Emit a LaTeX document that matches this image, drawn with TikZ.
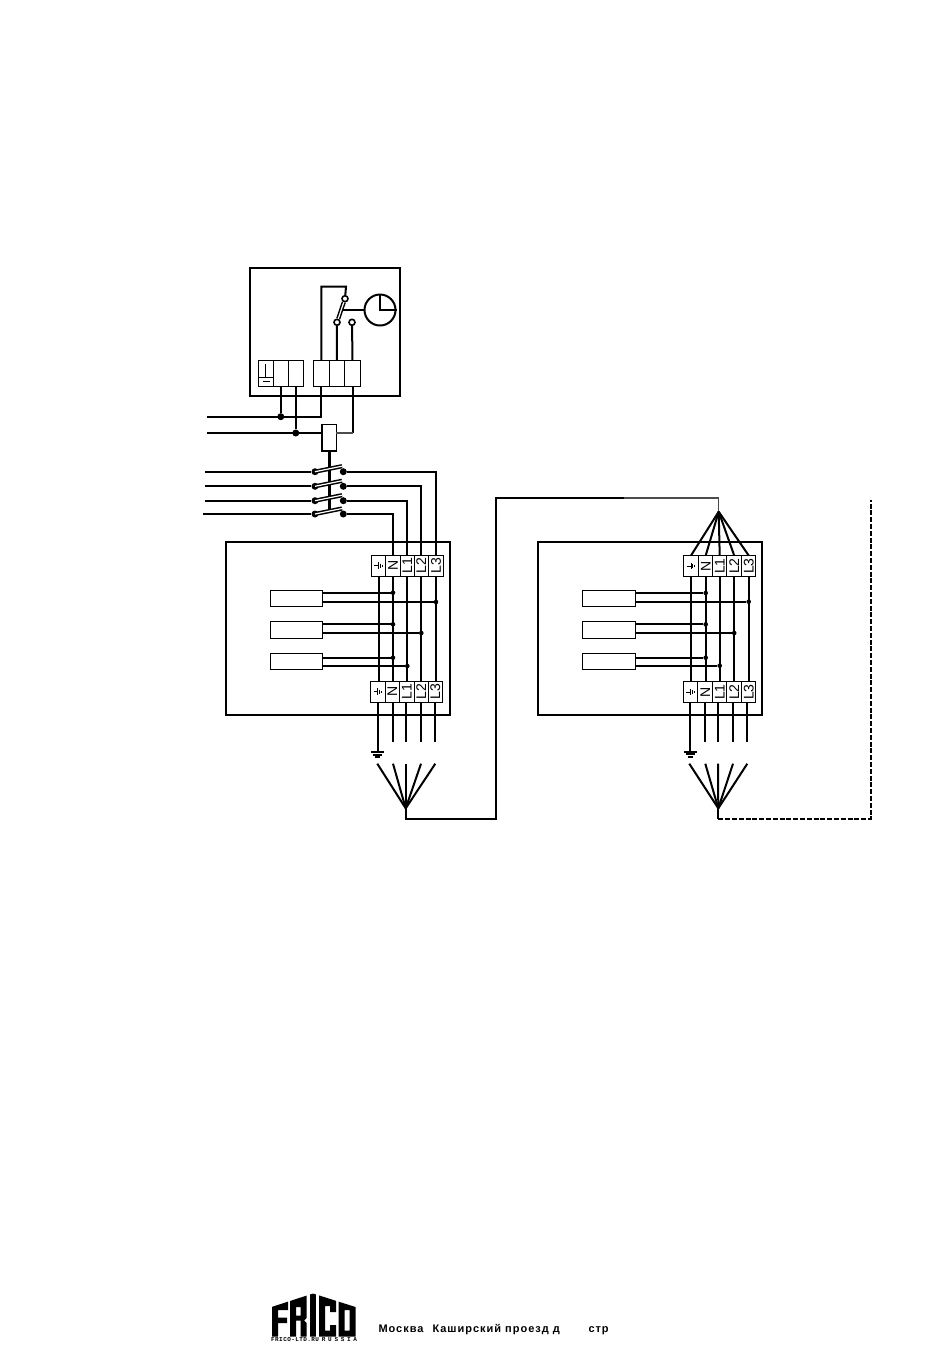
\documentclass[tikz,border=0pt]{standalone}
\usepackage{fontspec}
\setmainfont{Liberation Sans}
\newfontfamily\addrfont[LetterSpace=9]{Liberation Sans}
\newfontfamily\tagfont[LetterSpace=7]{Liberation Mono}
\newfontfamily\tagwide[LetterSpace=45]{Liberation Mono}
\tikzset{
	wire/.style={line width=2pt},
	thinwire/.style={line width=1.2pt,color=black!70},
	frame/.style={draw,line width=2pt,inner sep=0,outer sep=0},
	term/.style={draw,line width=1pt,inner sep=0,outer sep=0,minimum height=21pt,font=\fontsize{14}{15}\selectfont},
	heater/.style={draw,line width=1.1pt,inner sep=0,outer sep=0,minimum height=16pt},
	dot/.style={circle,fill,inner sep=0,minimum size=4.6pt},
	bigdot/.style={circle,fill,inner sep=0,minimum size=7pt},
	contact/.style={circle,draw,fill=white,line width=1.6pt,inner sep=0,minimum size=6pt},
	blade/.style={draw=black,double=white,double distance=1.2pt,line width=1.5pt},
	earthmark/.pic={\draw[line width=1pt](-4.2,0)--(0,0) (0,-3.4)--(0,3.4) (1.9,-2.2)--(1.9,2.2) (3.6,-.9)--(3.6,.9);},
	groundmark/.pic={\draw[line width=2pt](0,0)--(0,10) (-6.5,10)--(6.5,10) (-4.5,12.7)--(4.5,12.7) (-2.5,14.8)--(2.5,14.8);}
}
\begin{document}
\begin{tikzpicture}[x=1pt,y=-1pt]
\useasboundingbox (0,0) rectangle (950,1353);

	\node[frame,minimum width=150pt,minimum height=128pt](panel) at (325,332){};
	\node[term,minimum width=15pt,minimum height=26.4pt](p1) at (265.8,373.5){};
	\node[term,minimum width=15pt,minimum height=26.4pt](p2) at (280.8,373.5){};
	\node[term,minimum width=15pt,minimum height=26.4pt](p3) at (295.8,373.5){};
	\node[term,minimum width=16pt,minimum height=26.4pt](q1) at (321.3,373.5){};
	\node[term,minimum width=15pt,minimum height=26.4pt](q2) at (336.8,373.5){};
	\node[term,minimum width=16.4pt,minimum height=26.4pt](q3) at (352.5,373.5){};
	\draw[line width=1pt](265.5,364)--(265.5,377) (p1.west |- 0,377)--(p1.east |- 0,377) (262.7,381)--(270,381);

	\node[contact](st) at (345,298.7){};
	\node[contact](sa) at (337,322.3){};
	\node[contact](sb) at (352,322.3){};
	\node[circle,draw,line width=2pt,inner sep=0,minimum size=31pt](clock) at (380,310){};
	\coordinate (turn) at (346,286.7);
	\coordinate (arm) at (341.5,310);
	\draw[wire](q1.north)|-(turn)--(st);
	\draw[wire](q2.north)--(sa);
	\draw[wire](q3.north)--(sb);
	\draw[blade](sa)--(st);
	\draw[wire](arm)--(clock.west);
	\draw[wire](clock.north)--(clock.center)--(clock.east);

	\coordinate (w1) at (207,416.7);
	\coordinate (w2) at (207,433);
	\node[bigdot](j1) at (p2.south |- w1){};
	\node[bigdot](j2) at (p3.south |- w2){};
	\node[draw,line width=1.6pt,inner sep=0,outer sep=0,minimum width=14.3pt,minimum height=26.4pt](fuse) at (329.2,437.5){};
	\coordinate (fl) at (fuse.west |- w2);
	\coordinate (fr) at (fuse.east |- w2);
	\coordinate (rod) at (329.2,509);
	\draw[wire](w1)-|(q1.south);
	\draw[wire](p2.south)--(j1);
	\draw[wire](p3.south)--(j2);
	\draw[wire](w2)--(fl);
	\draw[wire](q3.south)--(q3.south |- fr);
	\draw[thinwire](fr)--(q3.south |- fr);
	\draw[line width=2.6pt](fuse.south)--(rod);

	\coordinate (i1) at (205,471.7);
	\coordinate (i2) at (205,486.3);
	\coordinate (i3) at (205,500.7);
	\coordinate (i4) at (203,514);
	\node[bigdot](s1) at (315,471.7){};
	\node[bigdot](s2) at (315,486.3){};
	\node[bigdot](s3) at (315,500.7){};
	\node[bigdot](s4) at (315,514){};
	\node[bigdot](r1) at (343.3,471.7){};
	\node[bigdot](r2) at (343.3,486.3){};
	\node[bigdot](r3) at (343.3,500.7){};
	\node[bigdot](r4) at (343.3,514){};
	\draw[blade](s1.center)--++(27,-5.5);
	\draw[blade](s2.center)--++(27,-5.5);
	\draw[blade](s3.center)--++(27,-5.5);
	\draw[blade](s4.center)--++(27,-5.5);
	\draw[wire](i1)--(s1);
	\draw[wire](i2)--(s2);
	\draw[wire](i3)--(s3);
	\draw[wire](i4)--(s4);

	\node[frame,minimum width=224.3pt,minimum height=173.3pt](unit1) at (337.9,628.3){};
	\node[term,minimum width=14.4pt](a1) at (378.5,565.8){};
	\node[term,minimum width=14.6pt](a2) at (393,565.8){\rotatebox{90}{N}};
	\node[term,minimum width=14pt](a3) at (407.3,565.8){\rotatebox{90}{L1}};
	\node[term,minimum width=14pt](a4) at (421.3,565.8){\rotatebox{90}{L2}};
	\node[term,minimum width=15.4pt](a5) at (436,565.8){\rotatebox{90}{L3}};
	\node[term,minimum width=15pt](b1) at (377.8,691.8){};
	\node[term,minimum width=14pt](b2) at (392.3,691.8){\rotatebox{90}{N}};
	\node[term,minimum width=15pt](b3) at (406.8,691.8){\rotatebox{90}{L1}};
	\node[term,minimum width=14pt](b4) at (421.3,691.8){\rotatebox{90}{L2}};
	\node[term,minimum width=14pt](b5) at (435.3,691.8){\rotatebox{90}{L3}};
	\pic at (a1.center) {earthmark};
	\pic at (b1.center) {earthmark};

	\draw[wire](r1)-|(a5.north);
	\draw[wire](r2)-|(a4.north);
	\draw[wire](r3)-|(a3.north);
	\draw[wire](r4)-|(a2.north);
	\draw[wire](a1.south)--(a1.south |- b1.north);
	\draw[wire](a2.south)--(a2.south |- b2.north);
	\draw[wire](a3.south)--(a3.south |- b3.north);
	\draw[wire](a4.south)--(a4.south |- b4.north);
	\draw[wire](a5.south)--(a5.south |- b5.north);

	\node[heater,minimum width=52.4pt](h1) at (296.5,598.3){};
	\node[heater,minimum width=52.4pt,minimum height=17pt](h2) at (296.5,629.8){};
	\node[heater,minimum width=52.4pt](h3) at (296.5,661.3){};
	\coordinate (h1a) at (h1.east |- 0,592.7);
	\coordinate (h1b) at (h1.east |- 0,602);
	\coordinate (h2a) at (h2.east |- 0,624.3);
	\coordinate (h2b) at (h2.east |- 0,633);
	\coordinate (h3a) at (h3.east |- 0,657.7);
	\coordinate (h3b) at (h3.east |- 0,666);
	\node[dot](j3) at (h1a -| a2.south){};
	\node[dot](j4) at (h1b -| a5.south){};
	\node[dot](j5) at (h2a -| a2.south){};
	\node[dot](j6) at (h2b -| a4.south){};
	\node[dot](j7) at (h3a -| a2.south){};
	\node[dot](j8) at (h3b -| a3.south){};
	\draw[wire](h1a)--(j3);
	\draw[wire](h1b)--(j4);
	\draw[wire](h2a)--(j5);
	\draw[wire](h2b)--(j6);
	\draw[wire](h3a)--(j7);
	\draw[wire](h3b)--(j8);

	\coordinate (v1) at (377.7,742);
	\coordinate (v2) at (392.7,742);
	\coordinate (v3) at (405.7,742);
	\coordinate (v4) at (421,742);
	\coordinate (v5) at (435,742);
	\draw[wire](v1 |- b1.south)--(v1);
	\draw[wire](v2 |- b2.south)--(v2);
	\draw[wire](v3 |- b3.south)--(v3);
	\draw[wire](v4 |- b4.south)--(v4);
	\draw[wire](v5 |- b5.south)--(v5);
	\pic at (v1) {groundmark};

	\coordinate (tip1) at (405.7,808.3);
	\coordinate (y1) at (377.3,763.7);
	\coordinate (y2) at (393,763.7);
	\coordinate (y3) at (405.7,763.7);
	\coordinate (y4) at (421,763.7);
	\coordinate (y5) at (435.3,763.7);
	\draw[wire](tip1)--(y1);
	\draw[wire](tip1)--(y2);
	\draw[wire](tip1)--(y3);
	\draw[wire](tip1)--(y4);
	\draw[wire](tip1)--(y5);

	\coordinate (tip2) at (718.7,511.7);
	\coordinate (u1) at (405.7,819);
	\coordinate (u2) at (496,819);
	\coordinate (u3) at (496,498);
	\coordinate (u4) at (624,498);
	\coordinate (u5) at (718.7,498);
	\draw[wire,line join=miter](tip1)--(u1)--(u2)--(u3)--(u4);
	\draw[thinwire,line width=1.5pt](u4)--(u5)--(tip2);

	\node[frame,minimum width=224.5pt,minimum height=173pt](unit2) at (650.2,628.5){};
	\node[term,minimum width=15.4pt](c1) at (691,566){};
	\node[term,minimum width=14pt](c2) at (705.7,566){\rotatebox{90}{N}};
	\node[term,minimum width=14pt](c3) at (719.7,566){\rotatebox{90}{L1}};
	\node[term,minimum width=15pt](c4) at (734.2,566){\rotatebox{90}{L2}};
	\node[term,minimum width=14pt](c5) at (748.7,566){\rotatebox{90}{L3}};
	\node[term,minimum width=14.4pt](e1) at (690.5,692){};
	\node[term,minimum width=15pt](e2) at (705.2,692){\rotatebox{90}{N}};
	\node[term,minimum width=14pt](e3) at (719.7,692){\rotatebox{90}{L1}};
	\node[term,minimum width=15pt](e4) at (734.2,692){\rotatebox{90}{L2}};
	\node[term,minimum width=14pt](e5) at (748.7,692){\rotatebox{90}{L3}};
	\pic at (c1.center) {earthmark};
	\pic at (e1.center) {earthmark};

	\draw[wire](tip2)--(c1.north);
	\draw[wire](tip2)--(c2.north);
	\draw[wire](tip2)--(c3.north);
	\draw[wire](tip2)--(c4.north);
	\draw[wire](tip2)--(c5.north);
	\draw[wire](c1.south)--(c1.south |- e1.north);
	\draw[wire](c2.south)--(c2.south |- e2.north);
	\draw[wire](c3.south)--(c3.south |- e3.north);
	\draw[wire](c4.south)--(c4.south |- e4.north);
	\draw[wire](c5.south)--(c5.south |- e5.north);

	\node[heater,minimum width=53.4pt](k1) at (609,598.3){};
	\node[heater,minimum width=53.4pt,minimum height=17pt](k2) at (609,629.8){};
	\node[heater,minimum width=53.4pt](k3) at (609,661.3){};
	\coordinate (k1a) at (k1.east |- 0,593);
	\coordinate (k1b) at (k1.east |- 0,601.7);
	\coordinate (k2a) at (k2.east |- 0,624.3);
	\coordinate (k2b) at (k2.east |- 0,633);
	\coordinate (k3a) at (k3.east |- 0,657.7);
	\coordinate (k3b) at (k3.east |- 0,665.7);
	\node[dot](j9) at (k1a -| c2.south){};
	\node[dot](j10) at (k1b -| c5.south){};
	\node[dot](j11) at (k2a -| c2.south){};
	\node[dot](j12) at (k2b -| c4.south){};
	\node[dot](j13) at (k3a -| c2.south){};
	\node[dot](j14) at (k3b -| c3.south){};
	\draw[wire](k1a)--(j9);
	\draw[wire](k1b)--(j10);
	\draw[wire](k2a)--(j11);
	\draw[wire](k2b)--(j12);
	\draw[wire](k3a)--(j13);
	\draw[wire](k3b)--(j14);

	\coordinate (g1) at (690,741.7);
	\coordinate (g2) at (705,741.7);
	\coordinate (g3) at (718,741.7);
	\coordinate (g4) at (732.7,741.7);
	\coordinate (g5) at (747,741.7);
	\draw[wire](g1 |- e1.south)--(g1);
	\draw[wire](g2 |- e2.south)--(g2);
	\draw[wire](g3 |- e3.south)--(g3);
	\draw[wire](g4 |- e4.south)--(g4);
	\draw[wire](g5 |- e5.south)--(g5);
	\pic at (g1) {groundmark};

	\coordinate (tip3) at (718.3,808.3);
	\coordinate (z1) at (689.3,763.7);
	\coordinate (z2) at (705.3,763.7);
	\coordinate (z3) at (718,763.7);
	\coordinate (z4) at (733,763.7);
	\coordinate (z5) at (747.3,763.7);
	\draw[wire](tip3)--(z1);
	\draw[wire](tip3)--(z2);
	\draw[wire](tip3)--(z3);
	\draw[wire](tip3)--(z4);
	\draw[wire](tip3)--(z5);

	\coordinate (o1) at (718.3,818.7);
	\coordinate (o2) at (870.5,818.7);
	\coordinate (o3) at (870.5,500);
	\draw[wire](tip3)--(o1);
	\draw[wire,dash pattern=on 5pt off 1.8pt](o1)--(o2)--(o3);

	\begin{scope}
	\clip (271.5,1307)--(313,1293.5)--(355.5,1307)--(355.5,1336.5)--(271.5,1336.5)--cycle;
	\fill (272,1336.5)--(272,1290)--(288,1290)--(288,1310)--(278,1310)--(278,1317.5)--(287,1317.5)--(287,1323)--(278,1323)--(278,1336.5)--cycle;
	\fill[even odd rule] (290,1336.5)--(290,1290)--(306.7,1290)--(306.7,1318)--(304,1320.5)--(306.7,1323)--(306.7,1336.5)--(300.7,1336.5)--(300.7,1320.5)--(296,1320.5)--(296,1336.5)--cycle (296,1307)--(296,1315.5)--(300.7,1315.5)--(300.7,1307)--cycle;
	\fill (310,1290) rectangle (316,1336.5);
	\fill (319,1336.5)--(319,1290)--(336,1290)--(336,1312)--(330,1312)--(330,1306)--(325,1306)--(325,1330.5)--(330,1330.5)--(330,1325)--(336,1325)--(336,1336.5)--cycle;
	\fill[even odd rule] (338.7,1290) rectangle (355.5,1336.5) (344.7,1310) rectangle (349.5,1330.5);
	\end{scope}
	\node[anchor=base west,inner sep=0,font=\tagfont\bfseries\fontsize{6}{7}\selectfont](tag) at (271,1341.7){FRICO-LTD.RU};
	\node[anchor=base west,inner sep=0,font=\tagwide\bfseries\fontsize{6}{7}\selectfont](land) at (321.7,1341.7){RUSSIA};
	\node[anchor=base west,inner sep=0,font=\addrfont\bfseries\fontsize{11}{13}\selectfont](town) at (378.3,1332){Москва};
	\node[anchor=base west,inner sep=0,font=\addrfont\bfseries\fontsize{11}{13}\selectfont](street) at (432.3,1332){Каширский проезд д};
	\node[anchor=base west,inner sep=0,font=\addrfont\bfseries\fontsize{11}{13}\selectfont](block) at (588.3,1332){стр};
\end{tikzpicture}
\end{document}
